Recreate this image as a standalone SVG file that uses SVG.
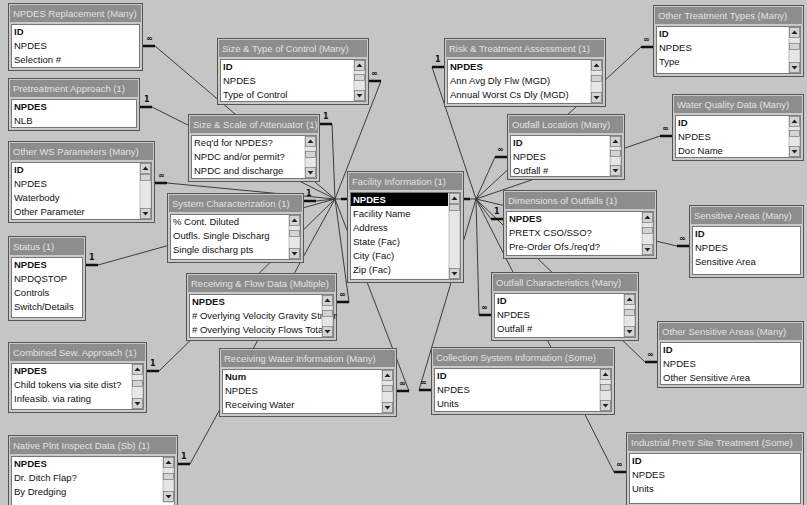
<svg xmlns="http://www.w3.org/2000/svg" width="807" height="505" viewBox="0 0 807 505">
<style>
.tf{fill:#c9c9c9;stroke:#555;stroke-width:1}
.tb{fill:#8d8d8d}
.tt{font:9.5px "Liberation Sans",Arial,sans-serif;fill:#e2e2e2}
.bd{fill:#fff;stroke:#777;stroke-width:1}
.f{font:9.5px "Liberation Sans",Arial,sans-serif;fill:#111}
.pk{font-weight:bold}
.sel{fill:#000}
.selt{font:bold 9.5px "Liberation Sans",Arial,sans-serif;fill:#fff}
.tr{fill:#e6e6e6;stroke:#999;stroke-width:0.6}
.btn{fill:#d4d4d4;stroke:#666;stroke-width:0.6}
.c{stroke:#3c3c3c;stroke-width:1;fill:none}
.st{stroke:#111;stroke-width:2.5}
.m{font:bold 8px "DejaVu Sans",sans-serif;fill:#111}
</style>
<defs>
<g id="up"><rect class="btn" x="0.5" y="0.5" width="10" height="10"/><path d="M2.5 7 L5.5 3.5 L8.5 7Z" fill="#222"/></g>
<g id="dn"><rect class="btn" x="0.5" y="0.5" width="10" height="10"/><path d="M2.5 4 L5.5 7.5 L8.5 4Z" fill="#222"/></g>
<g id="th"><rect class="btn" x="0.5" y="0.5" width="10" height="6"/></g>
</defs>
<rect width="807" height="505" fill="#c5c5c5"/>

<g id="connectors">
<path class="c" d="M347 199H335"/>
<path class="c" d="M464 199H476"/>
<path class="c" d="M155 46L335 199"/>
<path class="c" d="M152 107L335 199"/>
<path class="c" d="M167 183L335 199"/>
<path class="c" d="M98 265L335 199"/>
<path class="c" d="M159 371L335 199"/>
<path class="c" d="M190 464L335 199"/>
<path class="c" d="M381 81L335 199"/>
<path class="c" d="M332 124L335 199"/>
<path class="c" d="M316 201L335 199"/>
<path class="c" d="M349 302L335 199"/>
<path class="c" d="M409 391L335 199"/>
<path class="c" d="M419 390L476 199"/>
<path class="c" d="M432 67L476 199"/>
<path class="c" d="M495 157L476 199"/>
<path class="c" d="M491 219L476 199"/>
<path class="c" d="M479 315L476 199"/>
<path class="c" d="M641 47L476 199"/>
<path class="c" d="M660 136L476 199"/>
<path class="c" d="M677 246L476 199"/>
<path class="c" d="M645 362L476 199"/>
<path class="c" d="M614 472L476 199"/>
<g class="st">
<path d="M143 46h12M140 107h12M155 183h12M86 265h12M147 371h12M178 464h12M369 81h12M320 124h12M304 201h12M337 302h12M397 391h12"/>
<path d="M431 390h-12M444 67h-12M507 157h-12M503 219h-12M491 315h-12M653 47h-12M672 136h-12M689 246h-12M657 362h-12M626 472h-12"/>
<path d="M347 199h-6M464 199h6"/>
</g>
<g class="m">
<text x="146" y="41">∞</text><text x="144" y="102">1</text><text x="158" y="178">∞</text><text x="89" y="260">1</text>
<text x="150" y="366">1</text><text x="181" y="459">1</text><text x="371" y="76">∞</text><text x="323" y="119">1</text>
<text x="306" y="196">1</text><text x="339" y="297">∞</text><text x="399" y="386">∞</text>
<text x="420" y="385">∞</text><text x="435" y="62">1</text><text x="497" y="152">∞</text><text x="494" y="214">1</text>
<text x="481" y="310">∞</text><text x="643" y="42">∞</text><text x="662" y="131">∞</text><text x="679" y="241">∞</text>
<text x="647" y="357">∞</text><text x="616" y="467">∞</text>
</g>
</g>

<g id="t1"><svg x="8" y="3" width="135" height="68">
<rect class="tf" x="0.5" y="0.5" width="134" height="67"/><rect class="tb" x="2" y="2" width="131" height="17"/>
<text class="tt" x="5" y="14">NPDES Replacement (Many)</text>
<rect class="bd" x="3.5" y="21.5" width="128" height="43"/>
<text class="f pk" x="6" y="32">ID</text><text class="f" x="6" y="46">NPDES</text><text class="f" x="6" y="60">Selection #</text>
</svg></g>

<g id="t2"><svg x="8" y="78" width="132" height="53">
<rect class="tf" x="0.5" y="0.5" width="131" height="52"/><rect class="tb" x="2" y="2" width="128" height="17"/>
<text class="tt" x="5" y="14">Pretreatment Approach (1)</text>
<rect class="bd" x="3.5" y="21.5" width="125" height="28"/>
<text class="f pk" x="6" y="32">NPDES</text><text class="f" x="6" y="46">NLB</text>
</svg></g>

<g id="t3"><svg x="8" y="141" width="147" height="82">
<rect class="tf" x="0.5" y="0.5" width="146" height="81"/><rect class="tb" x="2" y="2" width="143" height="17"/>
<text class="tt" x="5" y="14">Other WS Parameters (Many)</text>
<rect class="bd" x="3.5" y="21.5" width="140" height="57"/>
<text class="f pk" x="6" y="32">ID</text><text class="f" x="6" y="46">NPDES</text><text class="f" x="6" y="60">Waterbody</text><text class="f" x="6" y="74">Other Parameter</text>
<rect class="tr" x="132" y="22" width="11" height="56"/><use href="#up" x="132" y="22"/><use href="#th" x="132" y="33"/><use href="#dn" x="132" y="67"/>
</svg></g>

<g id="t4"><svg x="8" y="236" width="78" height="85">
<rect class="tf" x="0.5" y="0.5" width="77" height="84"/><rect class="tb" x="2" y="2" width="74" height="17"/>
<text class="tt" x="5" y="14">Status (1)</text>
<rect class="bd" x="3.5" y="21.5" width="71" height="60"/>
<text class="f pk" x="6" y="32">NPDES</text><text class="f" x="6" y="46">NPDQSTOP</text><text class="f" x="6" y="60">Controls</text><text class="f" x="6" y="74">Switch/Details</text>
</svg></g>

<g id="t5"><svg x="8" y="342" width="139" height="71">
<rect class="tf" x="0.5" y="0.5" width="138" height="70"/><rect class="tb" x="2" y="2" width="135" height="17"/>
<text class="tt" x="5" y="14">Combined Sew. Approach (1)</text>
<rect class="bd" x="3.5" y="21.5" width="132" height="46"/>
<text class="f pk" x="6" y="32">NPDES</text><text class="f" x="6" y="46">Child tokens via site dist?</text><text class="f" x="6" y="60">Infeasib. via rating</text>
<rect class="tr" x="124" y="22" width="11" height="45"/><use href="#up" x="124" y="22"/><use href="#th" x="124" y="38"/><use href="#dn" x="124" y="56"/>
</svg></g>

<g id="t6"><svg x="8" y="435" width="170" height="75">
<rect class="tf" x="0.5" y="0.5" width="169" height="74"/><rect class="tb" x="2" y="2" width="166" height="17"/>
<text class="tt" x="5" y="14">Native Plnt Inspect Data (Sb) (1)</text>
<rect class="bd" x="3.5" y="21.5" width="163" height="50"/>
<text class="f pk" x="6" y="32">NPDES</text><text class="f" x="6" y="46">Dr. Ditch Flap?</text><text class="f" x="6" y="60">By Dredging</text>
<rect class="tr" x="155" y="22" width="11" height="45"/><use href="#up" x="155" y="22"/><use href="#th" x="155" y="38"/><use href="#dn" x="155" y="56"/>
</svg></g>

<g id="t7"><svg x="217" y="38" width="152" height="67">
<rect class="tf" x="0.5" y="0.5" width="151" height="66"/><rect class="tb" x="2" y="2" width="148" height="17"/>
<text class="tt" x="5" y="14">Size &amp; Type of Control (Many)</text>
<rect class="bd" x="3.5" y="21.5" width="145" height="42"/>
<text class="f pk" x="6" y="32">ID</text><text class="f" x="6" y="46">NPDES</text><text class="f" x="6" y="60">Type of Control</text>
<rect class="tr" x="137" y="22" width="11" height="41"/><use href="#up" x="137" y="22"/><use href="#th" x="137" y="36"/><use href="#dn" x="137" y="52"/>
</svg></g>

<g id="t8"><svg x="188" y="114" width="132" height="68">
<rect class="tf" x="0.5" y="0.5" width="131" height="67"/><rect class="tb" x="2" y="2" width="128" height="17"/>
<text class="tt" x="5" y="14">Size &amp; Scale of Attenuator (1)</text>
<rect class="bd" x="3.5" y="21.5" width="125" height="43"/>
<text class="f" x="6" y="32">Req'd for NPDES?</text><text class="f" x="6" y="46">NPDC and/or permit?</text><text class="f" x="6" y="60">NPDC and discharge</text>
<rect class="tr" x="117" y="22" width="11" height="42"/><use href="#up" x="117" y="22"/><use href="#th" x="117" y="37"/><use href="#dn" x="117" y="53"/>
</svg></g>

<g id="t9"><svg x="167" y="193" width="137" height="70">
<rect class="tf" x="0.5" y="0.5" width="136" height="69"/><rect class="tb" x="2" y="2" width="133" height="17"/>
<text class="tt" x="5" y="14">System Characterization (1)</text>
<rect class="bd" x="3.5" y="21.5" width="130" height="45"/>
<text class="f" x="6" y="32">% Cont. Diluted</text><text class="f" x="6" y="46">Outfls. Single Discharg</text><text class="f" x="6" y="60">Single discharg pts</text>
<rect class="tr" x="122" y="22" width="11" height="44"/><use href="#up" x="122" y="22"/><use href="#th" x="122" y="37"/><use href="#dn" x="122" y="55"/>
</svg></g>

<g id="t10"><svg x="186" y="273" width="151" height="68">
<rect class="tf" x="0.5" y="0.5" width="150" height="67"/><rect class="tb" x="2" y="2" width="147" height="17"/>
<text class="tt" x="5" y="14">Receiving &amp; Flow Data (Multiple)</text>
<rect class="bd" x="3.5" y="21.5" width="144" height="43"/>
<text class="f pk" x="6" y="32">NPDES</text><text class="f" x="6" y="46"># Overlying Velocity Gravity Stream</text><text class="f" x="6" y="60"># Overlying Velocity Flows Total</text>
<rect class="tr" x="136" y="22" width="11" height="42"/><use href="#up" x="136" y="22"/><use href="#th" x="136" y="37"/><use href="#dn" x="136" y="53"/>
</svg></g>

<g id="t11"><svg x="347" y="171" width="117" height="112">
<rect class="tf" x="0.5" y="0.5" width="116" height="111"/><rect class="tb" x="2" y="2" width="113" height="17"/>
<text class="tt" x="5" y="14">Facility Information (1)</text>
<rect class="bd" x="3.5" y="21.5" width="110" height="87"/>
<rect class="sel" x="4" y="22" width="97" height="13"/>
<text class="selt" x="6" y="32">NPDES</text><text class="f" x="6" y="46">Facility Name</text><text class="f" x="6" y="60">Address</text><text class="f" x="6" y="74">State (Fac)</text><text class="f" x="6" y="88">City (Fac)</text><text class="f" x="6" y="102">Zip (Fac)</text>
<rect class="tr" x="102" y="22" width="11" height="86"/><use href="#up" x="102" y="22"/><use href="#th" x="102" y="33"/><use href="#dn" x="102" y="97"/>
</svg></g>

<g id="t12"><svg x="219" y="348" width="178" height="69">
<rect class="tf" x="0.5" y="0.5" width="177" height="68"/><rect class="tb" x="2" y="2" width="174" height="17"/>
<text class="tt" x="5" y="14">Receiving Water Information (Many)</text>
<rect class="bd" x="3.5" y="21.5" width="171" height="44"/>
<text class="f pk" x="6" y="32">Num</text><text class="f" x="6" y="46">NPDES</text><text class="f" x="6" y="60">Receiving Water</text>
<rect class="tr" x="163" y="22" width="11" height="43"/><use href="#up" x="163" y="22"/><use href="#th" x="163" y="37"/><use href="#dn" x="163" y="54"/>
</svg></g>

<g id="t13"><svg x="431" y="347" width="184" height="68">
<rect class="tf" x="0.5" y="0.5" width="183" height="67"/><rect class="tb" x="2" y="2" width="180" height="17"/>
<text class="tt" x="5" y="14">Collection System Information (Some)</text>
<rect class="bd" x="3.5" y="21.5" width="177" height="43"/>
<text class="f pk" x="6" y="32">ID</text><text class="f" x="6" y="46">NPDES</text><text class="f" x="6" y="60">Units</text>
<rect class="tr" x="169" y="22" width="11" height="42"/><use href="#up" x="169" y="22"/><use href="#th" x="169" y="37"/><use href="#dn" x="169" y="53"/>
</svg></g>

<g id="t14"><svg x="444" y="38" width="162" height="69">
<rect class="tf" x="0.5" y="0.5" width="161" height="68"/><rect class="tb" x="2" y="2" width="158" height="17"/>
<text class="tt" x="5" y="14">Risk &amp; Treatment Assessment (1)</text>
<rect class="bd" x="3.5" y="21.5" width="155" height="44"/>
<text class="f pk" x="6" y="32">NPDES</text><text class="f" x="6" y="46">Ann Avg Dly Flw (MGD)</text><text class="f" x="6" y="60">Annual Worst Cs Dly (MGD)</text>
<rect class="tr" x="147" y="22" width="11" height="43"/><use href="#up" x="147" y="22"/><use href="#th" x="147" y="37"/><use href="#dn" x="147" y="54"/>
</svg></g>

<g id="t15"><svg x="507" y="114" width="118" height="66">
<rect class="tf" x="0.5" y="0.5" width="117" height="65"/><rect class="tb" x="2" y="2" width="114" height="17"/>
<text class="tt" x="5" y="14">Outfall Location (Many)</text>
<rect class="bd" x="3.5" y="21.5" width="111" height="41"/>
<text class="f pk" x="6" y="32">ID</text><text class="f" x="6" y="46">NPDES</text><text class="f" x="6" y="60">Outfall #</text>
<rect class="tr" x="103" y="22" width="11" height="40"/><use href="#up" x="103" y="22"/><use href="#th" x="103" y="36"/><use href="#dn" x="103" y="51"/>
</svg></g>

<g id="t16"><svg x="503" y="190" width="154" height="69">
<rect class="tf" x="0.5" y="0.5" width="153" height="68"/><rect class="tb" x="2" y="2" width="150" height="17"/>
<text class="tt" x="5" y="14">Dimensions of Outfalls (1)</text>
<rect class="bd" x="3.5" y="21.5" width="147" height="44"/>
<text class="f pk" x="6" y="32">NPDES</text><text class="f" x="6" y="46">PRETX CSO/SSO?</text><text class="f" x="6" y="60">Pre-Order Ofs./req'd?</text>
<rect class="tr" x="139" y="22" width="11" height="43"/><use href="#up" x="139" y="22"/><use href="#th" x="139" y="37"/><use href="#dn" x="139" y="54"/>
</svg></g>

<g id="t17"><svg x="491" y="272" width="148" height="69">
<rect class="tf" x="0.5" y="0.5" width="147" height="68"/><rect class="tb" x="2" y="2" width="144" height="17"/>
<text class="tt" x="5" y="14">Outfall Characteristics (Many)</text>
<rect class="bd" x="3.5" y="21.5" width="141" height="44"/>
<text class="f pk" x="6" y="32">ID</text><text class="f" x="6" y="46">NPDES</text><text class="f" x="6" y="60">Outfall #</text>
<rect class="tr" x="133" y="22" width="11" height="43"/><use href="#up" x="133" y="22"/><use href="#th" x="133" y="37"/><use href="#dn" x="133" y="54"/>
</svg></g>

<g id="t18"><svg x="653" y="5" width="151" height="72">
<rect class="tf" x="0.5" y="0.5" width="150" height="71"/><rect class="tb" x="2" y="2" width="147" height="17"/>
<text class="tt" x="5" y="14">Other Treatment Types (Many)</text>
<rect class="bd" x="3.5" y="21.5" width="144" height="47"/>
<text class="f pk" x="6" y="32">ID</text><text class="f" x="6" y="46">NPDES</text><text class="f" x="6" y="60">Type</text>
<rect class="tr" x="136" y="22" width="11" height="46"/><use href="#up" x="136" y="22"/><use href="#th" x="136" y="38"/><use href="#dn" x="136" y="57"/>
</svg></g>

<g id="t19"><svg x="672" y="94" width="132" height="67">
<rect class="tf" x="0.5" y="0.5" width="131" height="66"/><rect class="tb" x="2" y="2" width="128" height="17"/>
<text class="tt" x="5" y="14">Water Quality Data (Many)</text>
<rect class="bd" x="3.5" y="21.5" width="125" height="42"/>
<text class="f pk" x="6" y="32">ID</text><text class="f" x="6" y="46">NPDES</text><text class="f" x="6" y="60">Doc Name</text>
<rect class="tr" x="117" y="22" width="11" height="41"/><use href="#up" x="117" y="22"/><use href="#th" x="117" y="36"/><use href="#dn" x="117" y="52"/>
</svg></g>

<g id="t20"><svg x="689" y="205" width="115" height="73">
<rect class="tf" x="0.5" y="0.5" width="114" height="72"/><rect class="tb" x="2" y="2" width="111" height="17"/>
<text class="tt" x="5" y="14">Sensitive Areas (Many)</text>
<rect class="bd" x="3.5" y="21.5" width="108" height="48"/>
<text class="f pk" x="6" y="32">ID</text><text class="f" x="6" y="46">NPDES</text><text class="f" x="6" y="60">Sensitive Area</text>
</svg></g>

<g id="t21"><svg x="657" y="321" width="147" height="67">
<rect class="tf" x="0.5" y="0.5" width="146" height="66"/><rect class="tb" x="2" y="2" width="143" height="17"/>
<text class="tt" x="5" y="14">Other Sensitive Areas (Many)</text>
<rect class="bd" x="3.5" y="21.5" width="140" height="42"/>
<text class="f pk" x="6" y="32">ID</text><text class="f" x="6" y="46">NPDES</text><text class="f" x="6" y="60">Other Sensitive Area</text>
</svg></g>

<g id="t22"><svg x="626" y="432" width="178" height="75">
<rect class="tf" x="0.5" y="0.5" width="177" height="74"/><rect class="tb" x="2" y="2" width="174" height="17"/>
<text class="tt" x="5" y="14">Industrial Pre'tr Site Treatment (Some)</text>
<rect class="bd" x="3.5" y="21.5" width="171" height="50"/>
<text class="f pk" x="6" y="32">ID</text><text class="f" x="6" y="46">NPDES</text><text class="f" x="6" y="60">Units</text>
</svg></g>
</svg>
